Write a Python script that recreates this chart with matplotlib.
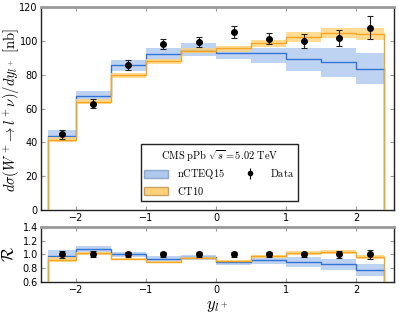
import numpy as np
import matplotlib
matplotlib.use("Agg")
import matplotlib.pyplot as plt
from matplotlib.patches import Patch

plt.rcParams['mathtext.fontset'] = 'cm'

# bin edges and data-point positions
edges = [-2.4, -2.0, -1.5, -1.0, -0.5, 0.0, 0.5, 1.0, 1.5, 2.0, 2.4]
y_data = [-2.2, -1.75, -1.25, -0.75, -0.25, 0.25, 0.75, 1.25, 1.75, 2.2]

# CMS data [nb]
data = [44.7, 62.9, 85.6, 98.4, 99.2, 105.2, 101.4, 100.0, 102.0, 107.9]
data_err = [2.5, 2.7, 3.0, 3.0, 3.0, 3.5, 3.4, 4.0, 4.8, 6.9]

# nCTEQ15: central, band low, band high
ncteq = [43.9, 67.4, 85.6, 92.5, 94.9, 93.1, 92.7, 89.2, 87.4, 83.6]
ncteq_lo = [41.8, 65.0, 82.4, 88.8, 91.1, 89.2, 86.8, 82.3, 78.9, 74.4]
ncteq_hi = [47.3, 70.6, 88.8, 96.1, 98.8, 95.7, 96.1, 96.1, 95.7, 92.7]

# CT10: central, band low, band high
ct10 = [41.2, 64.1, 79.7, 88.0, 94.1, 95.7, 98.6, 102.6, 105.0, 104.2]
ct10_lo = [40.0, 62.5, 78.3, 86.4, 92.7, 93.7, 96.3, 99.6, 102.0, 100.6]
ct10_hi = [43.0, 65.5, 81.2, 89.5, 95.7, 97.2, 100.6, 105.2, 107.9, 107.6]

blue_line = '#3373d6'
blue_band = '#aec8ee'
orange_line = '#f5a623'
orange_band = '#ffd27a'


def style_axes(ax):
    for s in ['left', 'right', 'bottom']:
        ax.spines[s].set_color('#222222')
        ax.spines[s].set_linewidth(1.0)
    ax.spines['top'].set_color('#999999')
    ax.spines['top'].set_linewidth(2.0)
    ax.tick_params(direction='in', length=3, width=0.8, color='#999999',
                   top=True, right=True, labelsize=7, pad=2)


def draw_theory(ax, cen, lo, hi, lcol, bcol, zl):
    e = np.array(edges)
    for i in range(len(cen)):
        ax.fill_between([e[i], e[i + 1]], lo[i], hi[i], color=bcol,
                        alpha=0.8, lw=0, zorder=zl)
    xx = np.concatenate([[e[0]], e])
    ax.step(xx, np.concatenate([[0], cen, [cen[-1]]]), where='post',
            color=lcol, lw=1.0, zorder=zl + 1)
    ax.plot([e[-1], e[-1]], [cen[-1], 0], color=lcol, lw=1.0, zorder=zl + 1)


fig = plt.figure(figsize=(3.99, 3.15), dpi=100)
ax1 = fig.add_axes([0.102, 0.334, 0.886, 0.643])
ax2 = fig.add_axes([0.102, 0.104, 0.886, 0.1765])

# top panel
draw_theory(ax1, ncteq, ncteq_lo, ncteq_hi, blue_line, blue_band, 2)
draw_theory(ax1, ct10, ct10_lo, ct10_hi, orange_line, orange_band, 4)
ax1.errorbar(y_data, data, yerr=data_err, fmt='o', color='black', ms=4,
             ecolor='#222222', elinewidth=0.8, capsize=2, capthick=0.8, zorder=10)
ax1.set_xlim(-2.5, 2.54)
ax1.set_ylim(0, 120)
ax1.set_xticks([-2, -1, 0, 1, 2])
ax1.set_yticks([0, 20, 40, 60, 80, 100, 120])
ax1.set_ylabel(r'$d\sigma(W^+\!\rightarrow l^+\nu)/dy_{l^+}\ \mathrm{[nb]}$',
               fontsize=10.5)
ax1.yaxis.set_label_coords(-0.057, 0.49)
style_axes(ax1)

handles = [Patch(facecolor=blue_band, edgecolor='#8fa8c8', lw=1),
           Patch(facecolor=orange_band, edgecolor='#c8a060', lw=1)]
eb = ax1.errorbar([], [], yerr=[], fmt='o', color='black', ms=3,
                  elinewidth=0.8, capsize=2)
leg = ax1.legend(handles + [eb], [r'$\mathrm{nCTEQ15}$', r'$\mathrm{CT10}$',
                                  r'$\mathrm{Data}$'],
                 ncol=2, loc='lower left', bbox_to_anchor=(0.268, 0.02),
                 title=r'$\mathrm{CMS\ pPb}\ \sqrt{s}=5.02\ \mathrm{TeV}$',
                 fontsize=7.5, title_fontsize=7.5, frameon=True, fancybox=False,
                 edgecolor='#222222', framealpha=1, handlelength=2.3,
                 handleheight=0.8, columnspacing=1.3, borderpad=0.35,
                 labelspacing=0.35, handletextpad=0.8)
leg.get_frame().set_linewidth(1.0)

# ratio panel
d = np.array(data)
draw_theory(ax2, np.array(ncteq) / d, np.array(ncteq_lo) / d,
            np.array(ncteq_hi) / d, blue_line, blue_band, 2)
draw_theory(ax2, np.array(ct10) / d, np.array(ct10_lo) / d,
            np.array(ct10_hi) / d, orange_line, orange_band, 4)
ax2.errorbar(y_data, np.ones(len(d)), yerr=np.array(data_err) / d, fmt='o',
             color='black', ms=4, ecolor='#222222', elinewidth=0.8, capsize=2,
             capthick=0.8, zorder=10)
ax2.set_xlim(-2.5, 2.54)
ax2.set_ylim(0.6, 1.4)
ax2.set_xticks([-2, -1, 0, 1, 2])
ax2.set_yticks([0.6, 0.8, 1.0, 1.2, 1.4])
ax2.set_ylabel(r'$\mathcal{R}$', fontsize=12)
ax2.yaxis.set_label_coords(-0.065, 0.5)
ax2.set_xlabel(r'$y_{l^+}$', fontsize=12, labelpad=1)
style_axes(ax2)

fig.savefig('out.png', dpi=100)
